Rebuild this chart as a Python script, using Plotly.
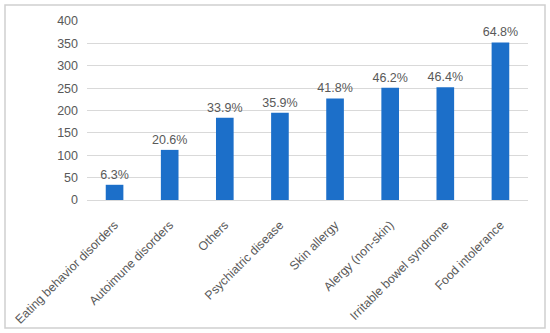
import plotly.graph_objects as go

categories = ["Eating behavior disorders", "Autoimune disorders", "Others", "Psychiatric disease",
              "Skin allergy", "Alergy (non-skin)", "Irritable bowel syndrome", "Food intolerance"]
counts = [34, 112, 184, 195, 227, 251, 252, 352]
percent_labels = ["6.3%", "20.6%", "33.9%", "35.9%", "41.8%", "46.2%", "46.4%", "64.8%"]
y_ticks = [0, 50, 100, 150, 200, 250, 300, 350, 400]

grey = "#595959"
fig = go.Figure(go.Bar(
    x=categories, y=counts, text=percent_labels, textposition="outside",
    constraintext="none", textfont=dict(color=grey, size=12.5),
    marker=dict(color="#1c6fc9", line=dict(width=0)),
    cliponaxis=False, width=0.32, hoverinfo="skip",
))

L, R, T, B = 87, 22, 21, 133
W, H = 550, 333
pw, ph = W - L - R, H - T - B
fig.update_layout(
    width=W, height=H, margin=dict(l=L, r=R, t=T, b=B, autoexpand=False),
    paper_bgcolor="white", plot_bgcolor="white",
    font=dict(family="Liberation Sans, Arial, sans-serif", color=grey, size=12),
    showlegend=False,
    shapes=[dict(type="rect", xref="paper", yref="paper",
                 x0=(5 - L) / pw, x1=(545 - L) / pw,
                 y0=(T + ph - 328) / ph, y1=(T + ph - 5) / ph,
                 line=dict(color="#d0d0d0", width=1.5), layer="above")],
)
fig.update_yaxes(range=[0, 400], tickvals=y_ticks, showgrid=True, gridcolor="#d9d9d9",
                 gridwidth=1, zeroline=False, showline=False, ticks="", automargin=False,
                 tickfont=dict(size=12.5, color=grey), ticklabelstandoff=8)
fig.update_xaxes(showline=True, linecolor="#d9d9d9", linewidth=1, tickangle=-45, ticks="",
                 automargin=False, tickfont=dict(size=12.3, color=grey),
                 ticklabelstandoff=12)

fig.write_html("out.html", config={"displayModeBar": False},
               post_script="document.body.style.margin='0';")
